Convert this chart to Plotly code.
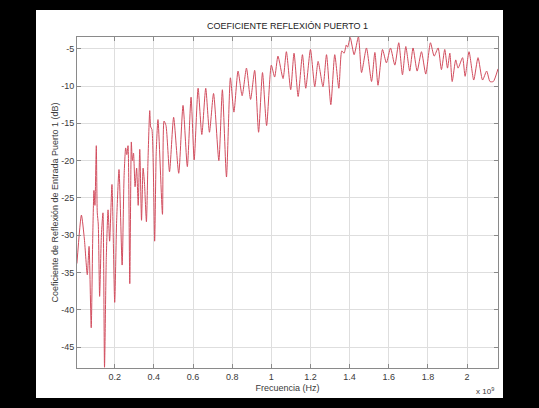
import plotly.graph_objects as go

# Frequency in units of 1e9 Hz (axis shows "x 10^9")
freq_ghz = [
    0.007, 0.030, 0.045, 0.060, 0.069, 0.080, 0.088, 0.094, 0.099, 0.106,
    0.111, 0.116, 0.123, 0.132, 0.140, 0.148, 0.157, 0.166, 0.174, 0.186,
    0.200, 0.210, 0.222, 0.238, 0.248, 0.256, 0.262, 0.268, 0.277, 0.285,
    0.290, 0.296, 0.304, 0.312, 0.320, 0.328, 0.337, 0.345, 0.352, 0.362,
    0.370, 0.379, 0.384, 0.390, 0.404, 0.412, 0.421, 0.444, 0.452, 0.462,
    0.480, 0.501, 0.527, 0.549, 0.571, 0.590, 0.606, 0.626, 0.645, 0.665,
    0.684, 0.705, 0.732, 0.750, 0.771, 0.791, 0.809, 0.830, 0.851, 0.873,
    0.894, 0.915, 0.935, 0.955, 0.976, 1.000, 1.017, 1.034, 1.060, 1.077,
    1.099, 1.116, 1.137, 1.159, 1.176, 1.200, 1.222, 1.239, 1.264, 1.282,
    1.304, 1.324, 1.345, 1.360, 1.372, 1.383, 1.390, 1.403, 1.423, 1.445,
    1.461, 1.486, 1.512, 1.529, 1.545, 1.568, 1.588, 1.609, 1.631, 1.651,
    1.670, 1.687, 1.707, 1.724, 1.745, 1.767, 1.789, 1.813, 1.832, 1.852,
    1.869, 1.886, 1.900, 1.912, 1.924, 1.942, 1.954, 1.977, 1.990, 2.010,
    2.034, 2.056, 2.079, 2.100, 2.117, 2.134, 2.158,
]
s11_db = [
    -33.8, -27.3, -30.5, -35.3, -31.5, -42.4, -30.0, -24.0, -26.0, -18.0,
    -27.0, -28.5, -38.2, -30.0, -27.0, -47.7, -33.0, -26.6, -30.8, -23.2,
    -39.0, -28.0, -21.2, -34.0, -22.0, -18.3, -19.2, -18.0, -36.5, -17.5,
    -20.0, -19.0, -23.5, -21.0, -26.0, -18.5, -28.0, -21.0, -23.0, -28.2,
    -20.0, -13.3, -15.5, -15.8, -30.8, -19.0, -14.5, -27.2, -14.7, -15.3,
    -21.5, -14.2, -21.7, -12.6, -20.8, -11.5, -19.9, -10.3, -16.5, -10.3,
    -16.2, -11.0, -20.0, -10.5, -22.2, -8.9, -13.5, -8.0, -11.3, -7.6,
    -11.8, -7.9, -16.2, -8.2, -15.3, -7.2, -8.8, -6.0, -9.0, -5.4,
    -10.5, -5.6, -11.4, -5.8, -10.3, -5.1, -10.1, -6.7, -10.1, -5.8,
    -12.5, -5.8, -10.3, -5.3, -5.6, -4.5, -4.8, -3.5, -5.8, -3.4,
    -8.2, -4.9, -9.4, -5.5, -9.9, -5.1, -6.9, -4.9, -7.2, -4.2,
    -8.5, -4.7, -8.0, -4.9, -8.0, -5.4, -8.4, -4.2, -6.0, -4.9,
    -7.8, -5.1, -7.6, -5.6, -9.4, -6.5, -7.6, -6.2, -8.7, -5.4,
    -9.2, -6.2, -9.2, -8.0, -9.4, -9.4, -7.7,
]

x_ticks = [0.2, 0.4, 0.6, 0.8, 1.0, 1.2, 1.4, 1.6, 1.8, 2.0]
x_ticktext = ["0.2", "0.4", "0.6", "0.8", "1", "1.2", "1.4", "1.6", "1.8", "2"]
y_ticks = [-5, -10, -15, -20, -25, -30, -35, -40, -45]
y_ticktext = ["-5", "-10", "-15", "-20", "-25", "-30", "-35", "-40", "-45"]

title_text = "COEFICIENTE REFLEXIÓN PUERTO 1"
x_title = "Frecuencia (Hz)"
y_title = "Coeficiente de Reflexión de Entrada Puerto 1 (dB)"

FONT = "Liberation Sans, Arial, sans-serif"
TXT = "#3a3a3a"

fig = go.Figure()
fig.add_trace(go.Scatter(
    x=freq_ghz, y=s11_db, mode="lines",
    line=dict(color="#d24d5e", width=1, shape="spline", smoothing=0.6),
    hoverinfo="skip", showlegend=False,
))

L, R, T, B = 77, 41, 37, 40
W, H = 539, 408
pw, ph = W - L - R, H - T - B

# white figure panel on black page
x0 = (36 - L) / pw
x1 = (503 - L) / pw
y1 = (H - B - 10) / ph
y0 = (H - B - 398) / ph
fig.add_shape(type="rect", xref="paper", yref="paper", x0=x0, x1=x1, y0=y0, y1=y1,
              fillcolor="white", line=dict(width=0), layer="below")

fig.update_layout(
    width=W, height=H,
    margin=dict(l=L, r=R, t=T, b=B),
    paper_bgcolor="black", plot_bgcolor="white",
    font=dict(family=FONT, size=9, color=TXT),
    title=dict(text=title_text, x=0.5, xref="paper", xanchor="center",
               y=(H - 26) / H, yanchor="middle",
               font=dict(family=FONT, size=9, color="#222")),
    showlegend=False,
)
fig.update_xaxes(
    range=[0.0074, 2.158], tickvals=x_ticks, ticktext=x_ticktext,
    showgrid=True, gridcolor="#dedede", gridwidth=1,
    showline=True, linecolor="#8a8a8a", linewidth=1, mirror="allticks",
    ticks="inside", ticklen=4, tickcolor="#8a8a8a",
    zeroline=False, tickfont=dict(size=9, color=TXT),
    title=dict(text=x_title, font=dict(size=9, color=TXT), standoff=3),
)
fig.update_yaxes(
    range=[-47.8, -3.43], tickvals=y_ticks, ticktext=y_ticktext,
    showgrid=True, gridcolor="#dedede", gridwidth=1,
    showline=True, linecolor="#8a8a8a", linewidth=1, mirror="allticks",
    ticks="inside", ticklen=4, tickcolor="#8a8a8a",
    zeroline=False, tickfont=dict(size=9, color=TXT),
    title=dict(text=y_title, font=dict(size=9, color=TXT), standoff=1),
)
fig.add_annotation(text="x 10<sup>9</sup>", xref="paper", yref="paper",
                   x=(485 - L) / pw, y=(H - B - 391) / ph, showarrow=False,
                   xanchor="center", yanchor="middle",
                   font=dict(family=FONT, size=8, color=TXT))

fig.write_html("out.html")
